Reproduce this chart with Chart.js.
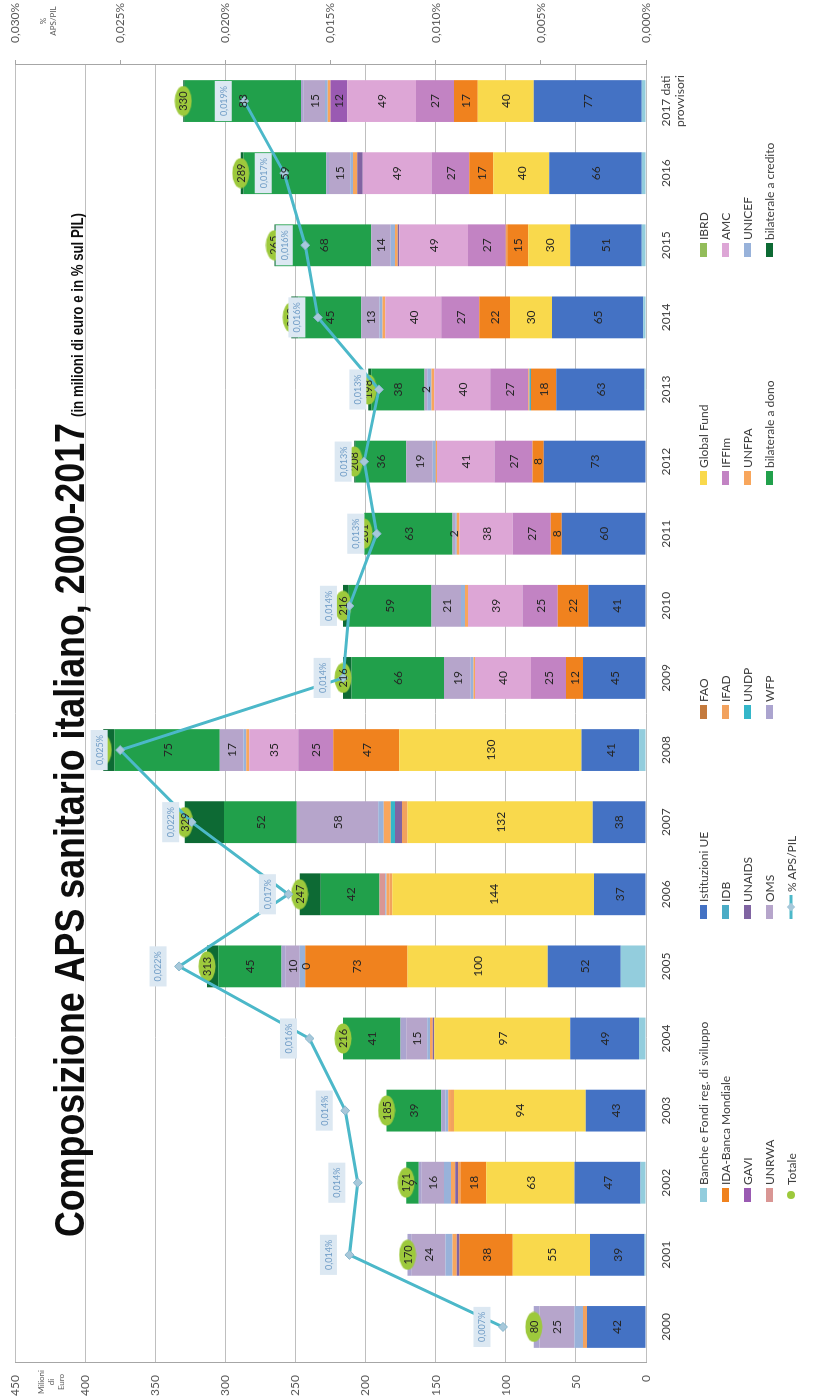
<!DOCTYPE html>
<html lang="it">
<head>
<meta charset="utf-8">
<title>Composizione APS sanitario italiano, 2000-2017</title>
<script src="https://cdn.jsdelivr.net/npm/chart.js@4.4.1/dist/chart.umd.min.js"></script>
<style>
html,body{margin:0;padding:0;background:#fff;width:821px;height:1399px;overflow:hidden;}
#wrap{position:absolute;left:0;top:0;height:821px;transform-origin:0 0;background:#fff;}
#wrap canvas{position:absolute;left:0;top:0;}
.lg{position:absolute;display:flex;align-items:center;white-space:nowrap;font-family:Lato,'Liberation Sans',sans-serif;font-size:12px;color:#404040;height:14px;}
.lg .k{display:inline-block;width:14px;height:7px;margin-right:3px;flex:none;}
.lg .dot{display:inline-block;width:8px;height:8px;border-radius:50%;margin:0 6px 0 3px;flex:none;}
.lg svg{margin-right:3px;flex:none;}
.ax{position:absolute;font-family:Lato,sans-serif;font-size:8px;color:#595959;text-align:center;line-height:10px;transform:translateX(-50%);}
</style>
</head>
<body>
<div id="wrap"><canvas id="c"></canvas><div id="legend"></div></div>
<script>
// ---------------- data ----------------
const N = null;
const years = ['2000','2001','2002','2003','2004','2005','2006','2007','2008','2009','2010','2011','2012','2013','2014','2015','2016',['2017 dati','provvisori']];
const banche   = [N,1,4,N,5,18,N,N,5,N,N,N,N,1,2,3,3,3];
const istUE    = [42,39,47,43,49,52,37,38,41,45,41,60,73,63,65,51,66,77];
const fao      = [N,N,N,N,N,N,N,N,N,N,N,N,N,N,N,N,N,N];
const globalFund = [N,55,63,94,97,100,144,132,130,N,N,N,N,N,30,30,40,40];
const ibrd     = [N,N,N,N,N,N,N,N,N,N,N,N,N,N,N,N,N,N];
const ida      = [N,38,18,N,N,73,N,N,47,12,22,8,8,18,22,15,17,17];
const idb      = [N,N,N,N,N,N,N,N,N,N,N,N,N,1,N,N,N,N];
const ifad     = [3,N,2,2,N,N,2,4,N,N,N,N,N,1,N,1,N,N];
const iffim    = [N,N,N,N,N,0,N,N,25,25,25,27,27,27,27,27,27,27];
const amc      = [N,N,N,N,N,N,N,N,35,40,39,38,41,40,40,49,49,49];
const gavi     = [N,N,N,N,N,N,N,N,N,N,N,N,N,N,N,N,N,12];
const unaids   = [N,2,2,N,1,N,N,5,N,N,N,N,N,N,N,1,4,N];
const undp     = [N,N,N,N,N,N,N,3,N,N,N,N,N,N,N,N,N,N];
const unfpa    = [N,3,3,2,2,N,2,5,2,1,2,2,1,2,2,2,3,2];
const unicef   = [6,5,5,2,2,4,1,4,2,2,3,1,2,3,2,3,2,2];
const unrwa    = [N,N,N,N,N,N,4,N,N,N,N,N,N,N,N,N,N,N];
const oms      = [25,24,16,N,15,10,N,58,17,19,21,2,19,2,13,14,15,15];
const wfp      = [4,3,2,3,4,3,N,N,N,N,N,N,N,N,N,N,2,2];
const bilDono  = [N,N,9,39,41,45,42,52,75,66,59,63,36,38,45,68,59,83];
const bilCredito = [N,N,N,N,N,8,15,28,8,6,4,N,1,2,5,1,2,1];
const totale   = [80,170,171,185,216,313,247,329,387,216,216,201,208,198,253,265,289,330];
const apsPil   = [0.0068,0.0141,0.0137,0.0143,0.0160,0.0222,0.0170,0.0216,0.0250,0.0144,0.0141,0.0128,0.0134,0.0127,0.0156,0.0162,0.0172,0.0191];
const valueTickStep = 50, valueMax = 450;
const pctTickStep = 0.005, pctMax = 0.030;

// ---------------- geometry of the (rotated) picture ----------------
const SQ = 1;
const W = Math.round(1399 / SQ), H = 821;
const X = v => v / SQ;
const wrap = document.getElementById('wrap');
wrap.style.width = W + 'px';
wrap.style.transform = 'translate(0px,1399px) rotate(-90deg) scale(' + SQ + ',1)';
const cv = document.getElementById('c');
cv.width = W; cv.height = H;
cv.style.width = W + 'px'; cv.style.height = H + 'px';

const FONT = 'Lato';
Chart.defaults.font.family = FONT;

const series = [
  ['Banche e Fondi reg. di sviluppo', banche, '#93CDDD', false],
  ['Istituzioni UE', istUE, '#4472C4', true],
  ['FAO', fao, '#C47A3D', false],
  ['Global Fund', globalFund, '#F9D94C', true],
  ['IBRD', ibrd, '#93BD5A', false],
  ['IDA-Banca Mondiale', ida, '#F0821E', true],
  ['IDB', idb, '#4BACC6', false],
  ['IFAD', ifad, '#F2A25E', false],
  ['IFFIm', iffim, '#C283C3', true],
  ['AMC', amc, '#DDA6D6', true],
  ['GAVI', gavi, '#9A5AB2', true],
  ['UNAIDS', unaids, '#8064A2', false],
  ['UNDP', undp, '#34B6C9', false],
  ['UNFPA', unfpa, '#F8A65C', false],
  ['UNICEF', unicef, '#98B2DA', false],
  ['UNRWA', unrwa, '#D99694', false],
  ['OMS', oms, '#B6A5CB', true],
  ['WFP', wfp, '#ABA4CF', false],
  ['bilaterale a dono', bilDono, '#21A04B', true],
  ['bilaterale a credito', bilCredito, '#0D6A34', false]
];

const bub = document.createElement('canvas');
bub.width = Math.round(X(31)); bub.height = 18;
(function(){
  const b = bub.getContext('2d');
  b.fillStyle = '#9DC93C';
  b.beginPath();
  b.ellipse(bub.width/2, bub.height/2, bub.width/2 - 0.5, bub.height/2 - 0.5, 0, 0, Math.PI*2);
  b.fill();
})();

const datasets = series.map(s => ({
  type: 'bar', label: s[0], data: s[1], backgroundColor: s[2], borderWidth: 0,
  stack: 'aps', yAxisID: 'y', order: 2, valueLabels: s[3],
  barPercentage: 0.58, categoryPercentage: 1
}));
datasets.push({
  type: 'line', label: 'Totale', data: totale, yAxisID: 'y', stack: 'tot', order: 1,
  showLine: false, pointStyle: bub, pointRadius: 9, backgroundColor: '#9DC93C', borderColor: '#9DC93C', isTotal: true
});
datasets.push({
  type: 'line', label: '% APS/PIL', data: apsPil, yAxisID: 'y2', stack: 'pct', order: 0,
  borderColor: '#4CB8C9', borderWidth: 3, tension: 0, fill: false,
  pointStyle: 'rectRot', pointRadius: 4.5, pointBackgroundColor: '#A7C8DA', pointBorderColor: '#86B6CC', pointBorderWidth: 1,
  isPct: true
});

const fmtPct = v => v.toFixed(3).replace('.', ',') + '%';

const overlay = {
  id: 'overlay',
  afterDatasetsDraw(chart) {
    const ctx = chart.ctx;
    ctx.save();
    ctx.textAlign = 'center';
    ctx.textBaseline = 'middle';
    ctx.font = '12px ' + FONT;
    chart.data.datasets.forEach((ds, i) => {
      if (!ds.valueLabels) return;
      const meta = chart.getDatasetMeta(i);
      meta.data.forEach((el, j) => {
        const v = ds.data[j];
        if (v === null || v === undefined) return;
        ctx.fillStyle = '#262626';
        ctx.fillText(String(v), el.x, (el.y + el.base) / 2 + 0.5);
      });
    });
    chart.data.datasets.forEach((ds, i) => {
      if (!ds.isTotal) return;
      const meta = chart.getDatasetMeta(i);
      ctx.font = '11px ' + FONT;
      ctx.fillStyle = '#262626';
      meta.data.forEach((el, j) => ctx.fillText(String(ds.data[j]), el.x, el.y + 0.5));
    });
    chart.data.datasets.forEach((ds, i) => {
      if (!ds.isPct) return;
      const meta = chart.getDatasetMeta(i);
      ctx.font = '9px ' + FONT;
      meta.data.forEach((el, j) => {
        const t = fmtPct(ds.data[j]);
        const w = ctx.measureText(t).width + 10, h = 17;
        const cx = el.x, cy = el.y - 21;
        ctx.fillStyle = '#DCE8F2';
        ctx.fillRect(cx - w/2, cy - h/2, w, h);
        ctx.fillStyle = '#6F9CC6';
        ctx.fillText(t, cx, cy + 0.5);
      });
    });
    ctx.restore();
  },
  afterDraw(chart) {
    const ctx = chart.ctx;
    ctx.save();
    ctx.textAlign = 'left';
    ctx.textBaseline = 'alphabetic';
    ctx.fillStyle = '#0d0d0d';
    function fit(text, font, x, y, w) {
      ctx.font = font;
      const m = ctx.measureText(text).width;
      ctx.save();
      ctx.translate(x, y);
      ctx.scale(w / m, 1);
      ctx.fillText(text, 0, 0);
      ctx.restore();
    }
    fit('Composizione APS sanitario italiano, 2000-2017', 'bold 42px "Liberation Sans"', X(162), 84, X(814));
    fit('(in milioni di euro e in % sul PIL)', 'bold 17px "Liberation Sans"', X(982), 83, X(204));
    ctx.restore();
  }
};

function noVPad(s) { s.paddingTop = 0; s.paddingBottom = 0; }

new Chart(cv, {
  data: { labels: years, datasets },
  options: {
    responsive: false,
    animation: false,
    layout: { padding: { top: 15, left: 0, right: 0, bottom: 0 } },
    plugins: { legend: { display: false }, tooltip: { enabled: false } },
    scales: {
      x: {
        stacked: true,
        grid: { display: false, drawTicks: false },
        border: { display: false },
        ticks: { color: '#404040', font: { size: 12 }, padding: 13, maxRotation: 0, autoSkip: false },
        afterFit(s) { s.height = 175; }
      },
      y: {
        stacked: true, position: 'left', min: 0, max: valueMax,
        ticks: { stepSize: valueTickStep, color: '#595959', font: { size: 12 }, padding: 12 },
        grid: { color: '#BFBFBF', drawTicks: false },
        border: { display: true, color: '#A6A6A6' },
        afterFit(s) { s.width = X(36); noVPad(s); }
      },
      y2: {
        position: 'right', min: 0, max: pctMax,
        ticks: { stepSize: pctTickStep, color: '#595959', font: { size: 12 }, padding: 17, callback: v => fmtPct(v) },
        grid: { drawOnChartArea: false, drawTicks: true, tickLength: 5, color: '#A6A6A6' },
        border: { display: true, color: '#A6A6A6' },
        afterFit(s) { s.width = X(65); noVPad(s); }
      }
    }
  },
  plugins: [overlay]
});

// ---------------- legend (5 x 5 grid) ----------------
const legend = document.getElementById('legend');
const colX = [197, 480, 680, 914, 1142];
const rowY = [703, 725, 747, 769, 791];
const legItems = series.map(s => ({ label: s[0], color: s[2], kind: 'box' }));
legItems.push({ label: 'Totale', color: '#9DC93C', kind: 'dot' });
legItems.push({ label: '% APS/PIL', color: '#4CB8C9', kind: 'line' });
legItems.forEach((it, i) => {
  const c = i % 5, r = Math.floor(i / 5);
  const d = document.createElement('div');
  d.className = 'lg';
  d.style.left = X(colX[c]) + 'px';
  d.style.top = (rowY[r] - 7) + 'px';
  let key;
  if (it.kind === 'box') key = '<span class="k" style="background:' + it.color + '"></span>';
  else if (it.kind === 'dot') key = '<span class="dot" style="background:' + it.color + '"></span>';
  else key = '<svg width="' + X(24) + '" height="10"><line x1="0" y1="5" x2="' + X(24) + '" y2="5" stroke="' + it.color + '" stroke-width="3"/><rect x="' + (X(12) - 3) + '" y="2" width="6" height="6" fill="#A7C8DA" transform="rotate(45 ' + X(12) + ' 5)"/></svg>';
  d.innerHTML = key + '<span></span>';
  d.lastChild.textContent = it.label;
  legend.appendChild(d);
});
function axTitle(lines, cx, top) {
  const d = document.createElement('div');
  d.className = 'ax';
  d.style.left = X(cx) + 'px';
  d.style.top = top + 'px';
  d.innerHTML = lines.map(t => '<div></div>').join('');
  lines.forEach((t, k) => d.children[k].textContent = t);
  legend.appendChild(d);
}
axTitle(['Milioni', 'di', 'Euro'], 17, 36);
axTitle(['%', 'APS/PIL'], 1378, 38);
</script>
</body>
</html>
